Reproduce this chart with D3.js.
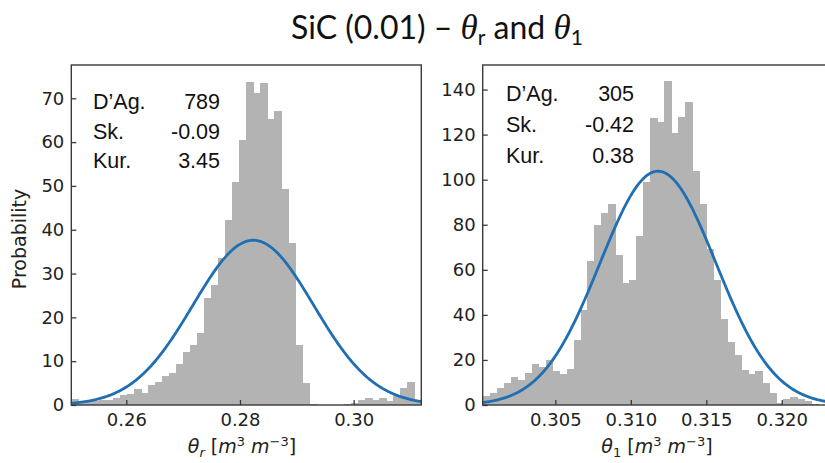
<!DOCTYPE html>
<html>
<head>
<meta charset="utf-8">
<script src="https://cdn.jsdelivr.net/npm/d3@7"></script>
<style>
  html, body { margin: 0; padding: 0; background: #fff; overflow: hidden; }
  svg { display: block; }
</style>
</head>
<body>
<svg id="chart" width="825" height="463"></svg>
<script>
// Histogram densities (50 equal-width bins) for theta_r
const thetaRRange = [0.250325, 0.3119];
const thetaRDensity = [
  1.3, 1.0, 0.9, 1.0, 1.1, 1.2, 1.6, 2.3, 2.4, 3.7,
  2.8, 4.6, 5.3, 6.6, 7.2, 9.4, 12.2, 13.7, 16.5, 24.4,
  27.4, 33.5, 42.2, 51.0, 60.5, 73.8, 71.2, 73.6, 65.2, 67.0,
  49.2, 37.0, 13.7, 5.1, 0.2, 0.1, 0.0, 0.1, 0.1, 0.2,
  0.5, 1.1, 1.6, 1.2, 1.7, 1.0, 2.0, 3.9, 5.3, 0.8
];
// Histogram densities (50 equal-width bins) for theta_1
const theta1Range = [0.300186, 0.323329];
const theta1Density = [
  4.2, 5.3, 7.6, 9.9, 12.4, 11.3, 14.1, 18.0, 16.8, 19.8,
  15.0, 13.9, 16.1, 28.7, 42.0, 63.8, 80.0, 85.3, 89.0, 66.7,
  54.1, 55.6, 74.9, 99.0, 127.2, 125.7, 143.9, 120.5, 127.9, 134.6,
  103.8, 89.4, 69.4, 55.3, 38.3, 27.9, 22.0, 15.7, 13.9, 15.0,
  9.7, 5.2, 1.0, 2.7, 3.4, 2.8, 1.8, 0.3, 0.2, 0.1
];
// Fitted normal distributions
const thetaRFit = { mu: 0.28234, sigma: 0.01061 };
const theta1Fit = { mu: 0.31180, sigma: 0.003845 };

// Statistics boxes
const statLabels = ["D\u2019Ag.", "Sk.", "Kur."];
const thetaRStats = ["789", "-0.09", "3.45"];
const theta1Stats = ["305", "-0.42", "0.38"];

// Ticks
const thetaRXTicks = [0.26, 0.28, 0.30];
const thetaRYTicks = [0, 10, 20, 30, 40, 50, 60, 70];
const theta1XTicks = [0.305, 0.310, 0.315, 0.320];
const theta1YTicks = [0, 20, 40, 60, 80, 100, 120, 140];

const svg = d3.select("#chart");
const FRAME = "#3a3a3a";
const BAR = "#b3b3b3";
const LINE = "#1f6fb2";

function normalPdf(x, mu, s) {
  return Math.exp(-0.5 * ((x - mu) / s) ** 2) / (s * Math.sqrt(2 * Math.PI));
}

function panel(opts) {
  const { id, xRange, pxX, pxY, yMax, density, fit, xTicks, yTicks, xFmt, stats, statPos } = opts;
  const x = d3.scaleLinear().domain(xRange).range(pxX);
  const y = d3.scaleLinear().domain([0, yMax]).range(pxY);
  const g = svg.append("g");

  g.append("clipPath").attr("id", id)
    .append("rect")
    .attr("x", pxX[0]).attr("y", pxY[1])
    .attr("width", pxX[1] - pxX[0]).attr("height", pxY[0] - pxY[1]);

  const plot = g.append("g").attr("clip-path", `url(#${id})`);
  const n = density.length;
  const w = (xRange[1] - xRange[0]) / n;
  const bins = density.map((d, i) => ({ x0: xRange[0] + i * w, x1: xRange[0] + (i + 1) * w, v: d }));

  plot.selectAll("rect.bar").data(bins).join("rect")
    .attr("class", "bar")
    .attr("x", d => x(d.x0))
    .attr("width", d => x(d.x1) - x(d.x0) + 0.8)
    .attr("y", d => y(d.v))
    .attr("height", d => y(0) - y(d.v))
    .attr("fill", BAR)
    .attr("shape-rendering", "crispEdges");

  const pts = d3.range(0, 401).map(k => {
    const xv = xRange[0] + (xRange[1] - xRange[0]) * k / 400;
    return [xv, normalPdf(xv, fit.mu, fit.sigma)];
  });
  plot.append("path")
    .datum(pts)
    .attr("d", d3.line().x(d => x(d[0])).y(d => y(d[1])))
    .attr("fill", "none")
    .attr("stroke", LINE)
    .attr("stroke-width", 2.8);

  // axes with inward ticks
  const ax = g.append("g").attr("transform", `translate(0,${pxY[0]})`)
    .call(d3.axisBottom(x).tickValues(xTicks).tickFormat(d3.format(xFmt)).tickSize(-5).tickPadding(8));
  const ay = g.append("g").attr("transform", `translate(${pxX[0]},0)`)
    .call(d3.axisLeft(y).tickValues(yTicks).tickFormat(d3.format("d")).tickSize(-5).tickPadding(7));
  [ax, ay].forEach(a => {
    a.select(".domain").remove();
    a.selectAll(".tick line").attr("stroke", FRAME).attr("stroke-width", 1.3);
    a.selectAll(".tick text")
      .attr("fill", "#222")
      .style("font-family", "'DejaVu Sans', sans-serif")
      .style("font-size", "18px");
  });

  g.append("rect")
    .attr("x", pxX[0]).attr("y", pxY[1])
    .attr("width", pxX[1] - pxX[0]).attr("height", pxY[0] - pxY[1])
    .attr("fill", "none").attr("stroke", FRAME).attr("stroke-width", 1.4);

  // statistics text
  const st = g.append("g")
    .style("font-family", "'Liberation Sans', Arial, sans-serif")
    .style("font-size", "21.5px").attr("fill", "#111");
  statLabels.forEach((lab, i) => {
    st.append("text").attr("x", statPos.x0).attr("y", statPos.y0 + i * statPos.dy).text(lab);
    st.append("text").attr("x", statPos.x1).attr("y", statPos.y0 + i * statPos.dy)
      .attr("text-anchor", "end").text(stats[i]);
  });
  return { x, y };
}

panel({
  id: "clipR", xRange: thetaRRange, pxX: [71.3, 421.3], pxY: [405, 65], yMax: 77.6,
  density: thetaRDensity, fit: thetaRFit, xTicks: thetaRXTicks, yTicks: thetaRYTicks, xFmt: ".2f",
  stats: thetaRStats, statPos: { x0: 93, x1: 220, y0: 109, dy: 29.5 }
});
panel({
  id: "clip1", xRange: theta1Range, pxX: [482.7, 832], pxY: [405, 65], yMax: 150.9,
  density: theta1Density, fit: theta1Fit, xTicks: theta1XTicks, yTicks: theta1YTicks, xFmt: ".3f",
  stats: theta1Stats, statPos: { x0: 506, x1: 634, y0: 101, dy: 31 }
});

// axis titles
function mathLabel(cx, cy, sub) {
  const t = svg.append("text")
    .attr("x", cx).attr("y", cy).attr("text-anchor", "middle")
    .style("font-family", "'DejaVu Sans', sans-serif").style("font-size", "19px").attr("fill", "#222");
  t.append("tspan").style("font-style", "italic").text("\u03B8");
  t.append("tspan").style("font-style", sub === "r" ? "italic" : "normal")
    .style("font-size", "13px").attr("dy", 4).text(sub);
  t.append("tspan").attr("dy", -4).text(" [");
  t.append("tspan").style("font-style", "italic").text("m");
  t.append("tspan").style("font-size", "13px").attr("dy", -7).text("3");
  t.append("tspan").attr("dy", 7).text(" ");
  t.append("tspan").style("font-style", "italic").text("m");
  t.append("tspan").style("font-size", "13px").attr("dy", -7).text("\u22123");
  t.append("tspan").attr("dy", 7).text("]");
}
mathLabel(242, 453, "r");
mathLabel(657, 453, "1");

svg.append("text")
  .attr("transform", "translate(26,239) rotate(-90)")
  .attr("text-anchor", "middle")
  .style("font-family", "'DejaVu Sans', sans-serif").style("font-size", "19px").attr("fill", "#222")
  .text("Probability");

// chart title
const title = svg.append("text")
  .attr("x", 437).attr("y", 39).attr("text-anchor", "middle")
  .style("font-family", "Lato, 'Open Sans', sans-serif").style("font-size", "32px").attr("fill", "#111");
title.append("tspan").text("SiC (0.01) \u2013 ");
title.append("tspan").style("font-family", "'Liberation Serif', serif").style("font-style", "italic").style("font-size", "35px").text("\u03B8");
title.append("tspan").style("font-size", "21px").attr("dy", 6).text("r");
title.append("tspan").attr("dy", -6).text(" and ");
title.append("tspan").style("font-family", "'Liberation Serif', serif").style("font-style", "italic").style("font-size", "35px").text("\u03B8");
title.append("tspan").style("font-size", "21px").attr("dy", 6).text("1");
</script>
</body>
</html>
